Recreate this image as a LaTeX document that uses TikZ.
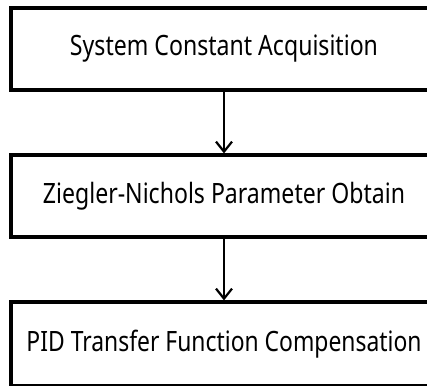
\documentclass[tikz,border=0pt]{standalone}
\usepackage{fontspec}
\setmainfont{Noto Sans}
\usetikzlibrary{arrows.meta}
\newcommand{\fitto}[2]{\resizebox{#1}{\height}{#2}}
\begin{document}
\begin{tikzpicture}[x=1pt,y=1pt,
  stage/.style={draw=black, line width=3.2pt, minimum width=426pt, minimum height=82pt, inner sep=0pt, font=\fontsize{28}{32}\selectfont},
  flow/.style={line width=2.2pt, -{Straight Barb[length=10pt,width=16pt,line width=2.2pt]}}]
\useasboundingbox (0,0) rectangle (427,385);
\clip (0,0) rectangle (427,385);
\node[stage] (a) at (224,336) {\fitto{308pt}{System Constant Acquisition}};
\node[stage] (b) at (224,189) {\fitto{362pt}{Ziegler-Nichols Parameter Obtain}};
\node[stage, minimum height=84pt] (c) at (224,41) {\fitto{395pt}{PID Transfer Function Compensation}};
\draw[flow] (a) -- (b);
\draw[flow] (b) -- (c);
\end{tikzpicture}
\end{document}
